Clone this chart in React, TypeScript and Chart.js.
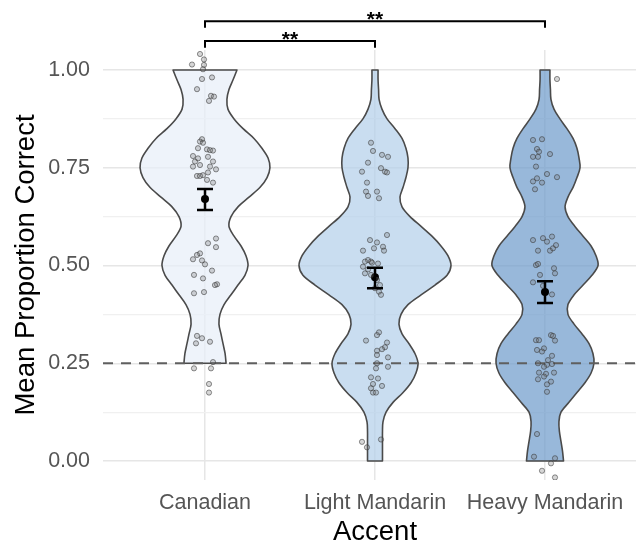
import React, { useEffect, useRef } from 'react';
import { Chart, registerables } from 'chart.js';

Chart.register(...registerables);

// ---------- data ----------
const CATEGORIES = ['Canadian', 'Light Mandarin', 'Heavy Mandarin'];
const Y_TICKS = [0, 0.125, 0.25, 0.375, 0.5, 0.625, 0.75, 0.875, 1];
const Y_MAJOR = [0, 0.25, 0.5, 0.75, 1];
const CHANCE_LEVEL = 0.25;

// violin outlines: value levels and half-widths (in category-width units)
const CAN_LEVELS = [0.25, 0.275, 0.3, 0.325, 0.35, 0.375, 0.4, 0.425, 0.45, 0.475, 0.5, 0.525, 0.55, 0.575, 0.6, 0.625, 0.65, 0.675, 0.7, 0.725, 0.75, 0.775, 0.8, 0.825, 0.85, 0.875, 0.9, 0.925, 0.95, 0.975, 1.0];
const CAN_WIDTH = [0.124, 0.118, 0.106, 0.094, 0.082, 0.088, 0.112, 0.153, 0.194, 0.235, 0.253, 0.241, 0.212, 0.171, 0.141, 0.153, 0.194, 0.259, 0.324, 0.365, 0.382, 0.371, 0.335, 0.288, 0.224, 0.171, 0.135, 0.129, 0.141, 0.165, 0.188];

const LM_LEVELS = [0, 0.025, 0.05, 0.075, 0.1, 0.125, 0.15, 0.175, 0.2, 0.225, 0.25, 0.275, 0.3, 0.325, 0.35, 0.375, 0.4, 0.425, 0.45, 0.475, 0.5, 0.525, 0.55, 0.575, 0.6, 0.625, 0.65, 0.675, 0.7, 0.725, 0.75, 0.775, 0.8, 0.825, 0.85, 0.875, 0.9, 0.925, 0.95, 0.975, 1.0];
const LM_WIDTH = [0.044, 0.044, 0.044, 0.044, 0.047, 0.065, 0.106, 0.165, 0.212, 0.241, 0.253, 0.235, 0.2, 0.159, 0.141, 0.153, 0.194, 0.271, 0.353, 0.424, 0.447, 0.429, 0.388, 0.335, 0.271, 0.206, 0.159, 0.147, 0.165, 0.182, 0.194, 0.194, 0.182, 0.159, 0.118, 0.071, 0.041, 0.024, 0.021, 0.018, 0.018];

const HM_LEVELS = [0, 0.025, 0.05, 0.075, 0.1, 0.125, 0.15, 0.175, 0.2, 0.225, 0.25, 0.275, 0.3, 0.325, 0.35, 0.375, 0.4, 0.425, 0.45, 0.475, 0.5, 0.525, 0.55, 0.575, 0.6, 0.625, 0.65, 0.675, 0.7, 0.725, 0.75, 0.775, 0.8, 0.825, 0.85, 0.875, 0.9, 0.925, 0.95, 0.975, 1.0];
const HM_WIDTH = [0.109, 0.103, 0.094, 0.085, 0.082, 0.094, 0.141, 0.188, 0.235, 0.271, 0.288, 0.282, 0.259, 0.218, 0.171, 0.135, 0.135, 0.171, 0.224, 0.276, 0.312, 0.3, 0.271, 0.224, 0.176, 0.135, 0.118, 0.135, 0.165, 0.188, 0.206, 0.2, 0.188, 0.165, 0.129, 0.088, 0.053, 0.035, 0.032, 0.029, 0.029];

// participant means (value) with horizontal jitter (1/170 of a category step)
const CAN_VALUES = [1.041, 1.027, 1.014, 1.013, 1.002, 0.977, 0.981, 0.951, 0.934, 0.932, 0.921, 0.823, 0.817, 0.814, 0.8, 0.797, 0.795, 0.794, 0.78, 0.774, 0.778, 0.766, 0.766, 0.757, 0.753, 0.753, 0.746, 0.738, 0.729, 0.729, 0.731, 0.719, 0.712, 0.557, 0.569, 0.547, 0.531, 0.527, 0.516, 0.513, 0.503, 0.487, 0.476, 0.467, 0.452, 0.45, 0.429, 0.432, 0.32, 0.314, 0.301, 0.305, 0.253, 0.237, 0.237, 0.197, 0.175];
const CAN_JITTER = [-5, -1, -13, -1, -2, -3, 7, -8, 6, 9, 4, -3, -5, -2, -7, 2, 5, 8, -12, -7, 3, 8, -10, -5, -12, 5, 11, 3, -8, -5, -2, 2, 8, 3, 11, 11, -5, -8, -12, -3, 0, 7, -11, -2, 12, 10, -11, -1, -8, -3, -9, 5, 8, -11, 6, 4, 4];

const LM_VALUES = [0.814, 0.793, 0.783, 0.778, 0.763, 0.749, 0.74, 0.738, 0.74, 0.712, 0.689, 0.689, 0.678, 0.672, 0.578, 0.565, 0.559, 0.544, 0.548, 0.538, 0.538, 0.514, 0.51, 0.505, 0.497, 0.51, 0.507, 0.49, 0.48, 0.476, 0.463, 0.45, 0.433, 0.425, 0.442, 0.329, 0.322, 0.308, 0.303, 0.291, 0.286, 0.282, 0.265, 0.271, 0.25, 0.241, 0.237, 0.214, 0.211, 0.197, 0.192, 0.186, 0.175, 0.175, 0.049, 0.055, 0.035];
const LM_JITTER = [-4, -2, 7, 13, -7, 6, 10, 12, -13, -8, -9, 2, -7, 4, 12, -5, 2, -1, 8, -12, 9, -7, -4, 3, -12, -10, -3, -7, -10, -4, 2, 5, 4, 6, 0, 4, 2, -9, 12, 10, 7, 2, 13, 2, 2, 13, 1, -4, 3, -2, 7, -4, -2, 1, -13, 6, -8];

const HM_VALUES = [0.977, 0.821, 0.823, 0.798, 0.791, 0.785, 0.778, 0.778, 0.753, 0.734, 0.726, 0.723, 0.715, 0.712, 0.695, 0.565, 0.57, 0.561, 0.574, 0.552, 0.538, 0.538, 0.544, 0.501, 0.504, 0.493, 0.48, 0.476, 0.457, 0.448, 0.426, 0.322, 0.32, 0.309, 0.309, 0.308, 0.288, 0.284, 0.28, 0.269, 0.258, 0.25, 0.246, 0.241, 0.248, 0.226, 0.223, 0.226, 0.216, 0.209, 0.203, 0.196, 0.177, 0.069, 0.011, 0.007, -0.025, -0.006, -0.042];
const HM_JITTER = [12, -12, -3, -8, -6, 5, -12, -7, -9, 2, 12, -8, -12, -3, -10, -12, -2, 2, 7, 11, -7, 5, 8, -9, -7, 9, 10, -5, -12, -2, 7, 6, 8, -9, -6, 10, -1, -8, -3, 7, 3, -7, 2, -1, 7, -6, 1, 9, -1, -7, 6, 2, 2, -8, -11, 10, -3, 6, 10];

// group mean and standard error limits
const MEANS = [0.67, 0.47, 0.432];
const SE_LOW = [0.642, 0.442, 0.404];
const SE_HIGH = [0.696, 0.494, 0.46];

// significance brackets
const BRACKET_FROM = [1, 1];
const BRACKET_TO = [2, 3];
const BRACKET_Y = [1.074, 1.125];
const BRACKET_LABEL = ['**', '**'];

// ---------- styling ----------
const JITTER_UNIT = 1 / 170;
const VIOLIN_FILLS = ['rgba(231,238,248,0.7)', 'rgba(178,206,233,0.7)', 'rgba(108,154,202,0.7)'];
const FONT = "'Liberation Sans', Arial, Helvetica, sans-serif";

const VIOLINS = [
  { levels: CAN_LEVELS, width: CAN_WIDTH },
  { levels: LM_LEVELS, width: LM_WIDTH },
  { levels: HM_LEVELS, width: HM_WIDTH },
];

function smoothPath(ctx: CanvasRenderingContext2D, pts: { x: number; y: number }[]) {
  ctx.lineTo(pts[0].x, pts[0].y);
  const t = 1 / 6;
  for (let i = 0; i < pts.length - 1; i++) {
    const p0 = pts[i - 1] || pts[i];
    const p1 = pts[i];
    const p2 = pts[i + 1];
    const p3 = pts[i + 2] || p2;
    ctx.bezierCurveTo(
      p1.x + (p2.x - p0.x) * t, p1.y + (p2.y - p0.y) * t,
      p2.x - (p3.x - p1.x) * t, p2.y - (p3.y - p1.y) * t,
      p2.x, p2.y
    );
  }
}

const violinPlugin = {
  id: 'violins',
  beforeDatasetsDraw(chart: any) {
    const { ctx, chartArea } = chart;
    const xs = chart.scales.x;
    const ys = chart.scales.y;
    ctx.save();
    VIOLINS.forEach((v, i) => {
      const c = i + 1;
      const right = v.levels.map((lv, k) => ({ x: xs.getPixelForValue(c + v.width[k]), y: ys.getPixelForValue(lv) }));
      const left = v.levels.map((lv, k) => ({ x: xs.getPixelForValue(c - v.width[k]), y: ys.getPixelForValue(lv) })).reverse();
      ctx.beginPath();
      ctx.moveTo(right[0].x, right[0].y);
      smoothPath(ctx, right);
      smoothPath(ctx, left);
      ctx.closePath();
      ctx.fillStyle = VIOLIN_FILLS[i];
      ctx.fill();
      ctx.lineWidth = 1.6;
      ctx.strokeStyle = '#4a4a4a';
      ctx.lineJoin = 'round';
      ctx.stroke();
    });
    // chance line
    const yc = ys.getPixelForValue(CHANCE_LEVEL);
    ctx.beginPath();
    ctx.setLineDash([10, 8]);
    ctx.moveTo(chartArea.left, yc);
    ctx.lineTo(chartArea.right, yc);
    ctx.strokeStyle = '#5f5f5f';
    ctx.lineWidth = 1.8;
    ctx.stroke();
    ctx.setLineDash([]);
    ctx.restore();
  },
  afterDatasetsDraw(chart: any) {
    const { ctx } = chart;
    const xs = chart.scales.x;
    const ys = chart.scales.y;
    ctx.save();
    ctx.strokeStyle = '#000';
    ctx.lineWidth = 2.5;
    MEANS.forEach((m, i) => {
      const c = i + 1;
      const x = xs.getPixelForValue(c);
      const xl = xs.getPixelForValue(c - 0.047);
      const xr = xs.getPixelForValue(c + 0.047);
      const yl = ys.getPixelForValue(SE_LOW[i]);
      const yh = ys.getPixelForValue(SE_HIGH[i]);
      ctx.beginPath();
      ctx.moveTo(x, yl); ctx.lineTo(x, yh);
      ctx.moveTo(xl, yl); ctx.lineTo(xr, yl);
      ctx.moveTo(xl, yh); ctx.lineTo(xr, yh);
      ctx.stroke();
    });
    ctx.restore();
  },
  afterDraw(chart: any) {
    const { ctx } = chart;
    const xs = chart.scales.x;
    const ys = chart.scales.y;
    ctx.save();
    ctx.strokeStyle = '#000';
    ctx.fillStyle = '#000';
    ctx.lineWidth = 2;
    ctx.font = `bold 21px ${FONT}`;
    ctx.textAlign = 'center';
    ctx.textBaseline = 'alphabetic';
    BRACKET_Y.forEach((by, i) => {
      const x1 = xs.getPixelForValue(BRACKET_FROM[i]);
      const x2 = xs.getPixelForValue(BRACKET_TO[i]);
      const y = ys.getPixelForValue(by);
      const yt = ys.getPixelForValue(by - 0.017);
      ctx.beginPath();
      ctx.moveTo(x1, yt); ctx.lineTo(x1, y); ctx.lineTo(x2, y); ctx.lineTo(x2, yt);
      ctx.stroke();
      ctx.fillText(BRACKET_LABEL[i], (x1 + x2) / 2, y + 5);
    });
    ctx.restore();
  },
};

function pointsFor(values: number[], jitter: number[], group: number) {
  return values.map((v, k) => ({ x: group + jitter[k] * JITTER_UNIT, y: v }));
}

export default function App() {
  const ref = useRef<HTMLCanvasElement>(null);
  useEffect(() => {
    if (!ref.current) return;
    const pointStyle = {
      pointRadius: 2.6,
      pointBorderWidth: 1,
      pointBackgroundColor: 'rgba(120,120,120,0.3)',
      pointBorderColor: 'rgba(55,55,55,0.55)',
      showLine: false,
    };
    const chart = new Chart(ref.current, {
      type: 'scatter',
      data: {
        datasets: [
          { label: CATEGORIES[0], data: pointsFor(CAN_VALUES, CAN_JITTER, 1), ...pointStyle },
          { label: CATEGORIES[1], data: pointsFor(LM_VALUES, LM_JITTER, 2), ...pointStyle },
          { label: CATEGORIES[2], data: pointsFor(HM_VALUES, HM_JITTER, 3), ...pointStyle },
          {
            label: 'Mean',
            data: MEANS.map((m, i) => ({ x: i + 1, y: m })),
            pointRadius: 4,
            pointBackgroundColor: '#000',
            pointBorderColor: '#000',
            pointBorderWidth: 0,
            showLine: false,
          },
        ],
      },
      options: {
        responsive: false,
        maintainAspectRatio: false,
        animation: false,
        devicePixelRatio: 1,
        layout: { autoPadding: false, padding: { top: 50, left: 0, right: 0, bottom: 0 } },
        plugins: { legend: { display: false }, tooltip: { enabled: false } },
        scales: {
          x: {
            type: 'linear',
            min: 0.4,
            max: 3.6,
            afterBuildTicks: (axis: any) => {
              axis.ticks = CATEGORIES.map((_, i) => ({ value: i + 1 }));
            },
            afterFit: (scale: any) => {
              scale.height = 64;
              scale.paddingLeft = 0;
              scale.paddingRight = 0;
            },
            ticks: {
              callback: (v: any) => CATEGORIES[Math.round(Number(v)) - 1] ?? '',
              color: '#555555',
              font: { size: 21.5, family: FONT },
              padding: 10,
              autoSkip: false,
              maxRotation: 0,
            },
            grid: { color: '#e6e6e6', lineWidth: 1.5, drawTicks: false },
            border: { display: false },
            title: {
              display: true,
              text: 'Accent',
              color: '#000',
              font: { size: 27.5, family: FONT, lineHeight: 0.85 },
              padding: { top: 0, bottom: 0 },
            },
          },
          y: {
            type: 'linear',
            min: -0.0486,
            max: 1.0512,
            afterBuildTicks: (axis: any) => {
              axis.ticks = Y_TICKS.map((v) => ({ value: v }));
            },
            afterFit: (scale: any) => {
              scale.width = 103;
              scale.paddingTop = 0;
              scale.paddingBottom = 0;
            },
            ticks: {
              callback: (v: any) => (Y_MAJOR.includes(Number(v)) ? Number(v).toFixed(2) : ''),
              color: '#555555',
              font: { size: 21.5, family: FONT },
              padding: 13,
              autoSkip: false,
            },
            grid: {
              color: (c: any) => (Y_MAJOR.includes(c.tick?.value) ? '#e6e6e6' : '#f0f0f0'),
              lineWidth: (c: any) => (Y_MAJOR.includes(c.tick?.value) ? 1.5 : 1.2),
              drawTicks: false,
            },
            border: { display: false },
            title: {
              display: true,
              text: 'Mean Proportion Correct',
              color: '#000',
              font: { size: 27.5, family: FONT },
              padding: { top: 10, bottom: 0 },
            },
          },
        },
      },
      plugins: [violinPlugin],
    } as any);
    return () => chart.destroy();
  }, []);

  return (
    <div style={{ position: 'absolute', left: 0, top: 0, width: 636, height: 544, overflow: 'hidden', background: '#fff' }}>
      <canvas ref={ref} width={647} height={544} style={{ display: 'block', width: 647, height: 544 }} />
    </div>
  );
}
